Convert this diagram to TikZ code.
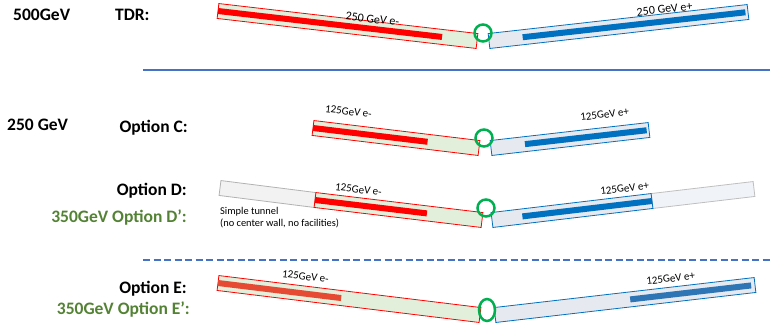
\documentclass[tikz,border=0pt]{standalone}
\usepackage{fontspec}
\setmainfont{Carlito}
\usetikzlibrary{positioning,calc}

\definecolor{beamred}{HTML}{FF0000}
\definecolor{beamredE}{HTML}{E64A33}
\definecolor{beamblue}{HTML}{0070C0}
\definecolor{beamblueE}{HTML}{2E75B6}
\definecolor{tubegreen}{HTML}{E2EFDA}
\definecolor{tubegrey}{HTML}{E6E9EF}
\definecolor{plaingrey}{HTML}{F2F2F2}
\definecolor{plainblue}{HTML}{F0F3F8}
\definecolor{ipgreen}{HTML}{00B050}
\definecolor{rulebl}{HTML}{4472C4}
\definecolor{textgreen}{HTML}{548235}

% rotated tunnel box between two centre points
\newcommand{\tunnel}[3]{%
  \draw[#1] ($(#2)!7.5pt!90:(#3)$) -- ($(#3)!7.5pt!-90:(#2)$)
    -- ($(#3)!7.5pt!90:(#2)$) -- ($(#2)!7.5pt!-90:(#3)$) -- cycle;}
% beam bar along a tunnel, from/to as fractions
\newcommand{\beam}[5]{%
  \draw[#1] ($(#2)!#4!(#3)$) -- ($(#2)!#5!(#3)$);}

\begin{document}
\begin{tikzpicture}[x=1pt, y=-1pt,
  every node/.style={inner sep=0pt},
  title/.style={font=\bfseries\fontsize{17.5}{20}\selectfont},
  greentitle/.style={title, text=textgreen},
  beamlbl/.style={font=\fontsize{11}{13}\selectfont, anchor=base},
  etube/.style={draw=beamred, line width=0.8pt, fill=tubegreen},
  ptube/.style={draw=beamblue, line width=0.8pt, fill=tubegrey},
  stube/.style={draw=black!30, line width=0.8pt, fill=plaingrey},
  stubeb/.style={draw=black!25, line width=0.8pt, fill=plainblue},
  ebar/.style={draw=beamred, line width=6pt},
  pbar/.style={draw=beamblue, line width=6pt},
  ipring/.style={draw=ipgreen, line width=2.5pt},
  sepline/.style={draw=rulebl, line width=2pt}]
  \useasboundingbox (0,0) rectangle (770,322);

  % row labels
  \node[title, anchor=base west] (e500) at (13,20) {500GeV};
  \node[title, anchor=base west] (tdr) at (115,20) {TDR:};
  \node[title, anchor=base west] (e250) at (7,130) {250 GeV};
  \node[title, anchor=base east] (optC) at (188,132) {Option C:};
  \node[title, anchor=base east] (optD) at (187,195) {Option D:};
  \node[greentitle, anchor=base east] (optDp) at (187,222) {350GeV Option D’:};
  \node[title, anchor=base east] (optE) at (187,293) {Option E:};
  \node[greentitle, anchor=base east] (optEp) at (190,314) {350GeV Option E’:};

  % separators
  \draw[sepline] (143,70) -- (770,70);
  \draw[sepline, dash pattern=on 7pt off 3.5pt] (143,260) -- (770,260);

  % TDR
  \coordinate (tdrL) at (218,11);
  \coordinate (tdrM) at (477,41);
  \coordinate (tdrN) at (489,41);
  \coordinate (tdrR) at (748,12);
  \tunnel{etube}{tdrL}{tdrM}
  \tunnel{ptube}{tdrN}{tdrR}
  \beam{ebar}{tdrL}{tdrM}{0}{0.865}
  \beam{pbar}{tdrN}{tdrR}{0.13}{0.99}
  \draw[ipring] (483,33) circle (8.5);
  \node[beamlbl, rotate=-6.6, font=\fontsize{12}{14}\selectfont] (tdrEm) at (372,23) {250 GeV e-};
  \node[beamlbl, rotate=6.4, font=\fontsize{12}{14}\selectfont] (tdrEp) at (665,13) {250 GeV e+};

  % Option C
  \coordinate (cL) at (313,128);
  \coordinate (cM) at (479,148);
  \coordinate (cN) at (491,148);
  \coordinate (cR) at (649,130);
  \tunnel{etube}{cL}{cM}
  \tunnel{ptube}{cN}{cR}
  \beam{ebar}{cL}{cM}{0}{0.69}
  \beam{pbar}{cN}{cR}{0.215}{0.985}
  \draw[ipring] (484,138) circle (8.5);
  \node[beamlbl, rotate=-7] (cEm) at (348,115) {125GeV e-};
  \node[beamlbl, rotate=7] (cEp) at (605,118) {125GeV e+};

  % Option D
  \coordinate (dK) at (220,188);
  \coordinate (dL) at (315,200);
  \coordinate (dM) at (482,220);
  \coordinate (dN) at (492,220);
  \coordinate (dR) at (652,201);
  \coordinate (dS) at (754,189);
  \tunnel{stube}{dK}{dL}
  \tunnel{stubeb}{dR}{dS}
  \tunnel{etube}{dL}{dM}
  \tunnel{ptube}{dN}{dR}
  \beam{ebar}{dL}{dM}{0}{0.67}
  \beam{pbar}{dN}{dR}{0.19}{1}
  \draw[ipring] (486,208) circle (8.5);
  \node[beamlbl, rotate=-7] (dEm) at (358,193) {125GeV e-};
  \node[beamlbl, rotate=7] (dEp) at (625,192) {125GeV e+};
  \node[anchor=north west, align=left, font=\fontsize{10.4}{12.5}\selectfont] (simple) at (220,207)
    {Simple tunnel\\(no center wall, no facilities)};

  % Option E
  \coordinate (eL) at (218,283);
  \coordinate (eM) at (480,315);
  \coordinate (eN) at (495,315);
  \coordinate (eR) at (755,285);
  \tunnel{etube}{eL}{eM}
  \tunnel{ptube}{eN}{eR}
  \beam{ebar, draw=beamredE}{eL}{eM}{0}{0.47}
  \beam{pbar, draw=beamblueE}{eN}{eR}{0.52}{0.985}
  \draw[ipring] (487,310) ellipse (8 and 11);
  \node[beamlbl, rotate=-7] (eEm) at (305,280) {125GeV e-};
  \node[beamlbl, rotate=6.6] (eEp) at (671,282) {125GeV e+};
\end{tikzpicture}
\end{document}
